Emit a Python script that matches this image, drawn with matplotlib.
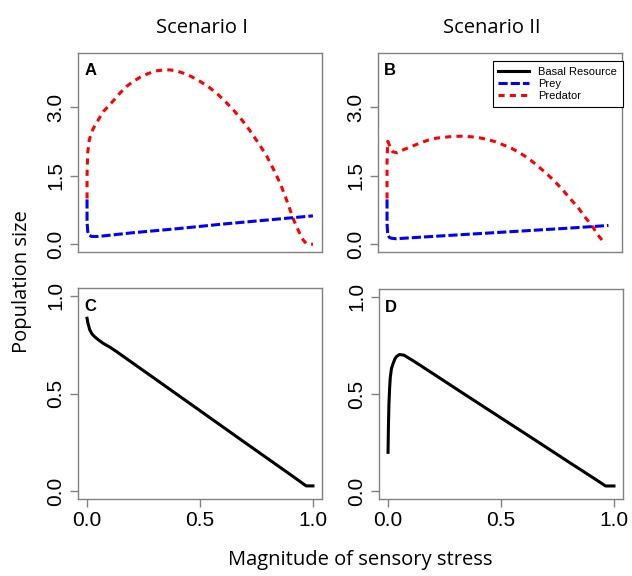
import matplotlib
matplotlib.use('Agg')
import matplotlib.pyplot as plt
from matplotlib.lines import Line2D

# scenario I (panels A, C)
x_pred_1 = [0.0, 0.0, 0.003, 0.01, 0.02, 0.035, 0.05, 0.072, 0.095, 0.117, 0.145, 0.175, 0.205, 0.235,
            0.27, 0.308, 0.34, 0.367, 0.395, 0.426, 0.46, 0.5, 0.535, 0.574, 0.61, 0.647, 0.685, 0.72,
            0.76, 0.795, 0.825, 0.854, 0.878, 0.898, 0.915, 0.928, 0.943, 0.957, 0.97, 0.98, 1.0]
y_pred_1 = [1.0, 1.5, 2.0, 2.28, 2.45, 2.6, 2.72, 2.9, 3.02, 3.14, 3.3, 3.45, 3.56, 3.65,
            3.73, 3.79, 3.81, 3.81, 3.79, 3.74, 3.67, 3.56, 3.45, 3.3, 3.13, 2.94, 2.72, 2.49,
            2.2, 1.93, 1.64, 1.34, 1.04, 0.76, 0.53, 0.38, 0.22, 0.09, 0.02, 0.0, 0.0]
x_prey_1 = [0.0, 0.0, 0.003, 0.008, 0.02, 0.05, 0.2, 0.4, 0.6, 0.8, 1.0]
y_prey_1 = [0.98, 0.5, 0.28, 0.2, 0.17, 0.17, 0.25, 0.34, 0.44, 0.53, 0.62]
x_res_1 = [0.0, 0.004, 0.012, 0.022, 0.034, 0.05, 0.071, 0.1, 0.13, 0.3, 0.5, 0.7, 0.9, 0.97, 1.0]
y_res_1 = [0.885, 0.86, 0.826, 0.805, 0.79, 0.775, 0.757, 0.738, 0.715, 0.576, 0.412, 0.248, 0.085, 0.027, 0.027]

# scenario II (panels B, D)
x_pred_2 = [0.0, 0.0, 0.003, 0.008, 0.015, 0.025, 0.045, 0.07, 0.11, 0.15, 0.185, 0.22, 0.258, 0.295,
            0.33, 0.37, 0.405, 0.445, 0.48, 0.515, 0.55, 0.59, 0.625, 0.66, 0.7, 0.735, 0.77,
            0.81, 0.846, 0.875, 0.905, 0.934, 0.95, 0.965]
y_pred_2 = [1.0, 1.8, 2.25, 2.2, 2.08, 2.02, 2.0, 2.06, 2.14, 2.22, 2.28, 2.32, 2.34, 2.36,
            2.36, 2.35, 2.33, 2.29, 2.24, 2.17, 2.1, 1.99, 1.88, 1.74, 1.57, 1.41, 1.23,
            1.0, 0.8, 0.6, 0.42, 0.2, 0.1, 0.0]
x_prey_2 = [0.0, 0.0, 0.003, 0.01, 0.02, 0.04, 0.2, 0.4, 0.6, 0.8, 0.98]
y_prey_2 = [0.98, 0.45, 0.22, 0.15, 0.13, 0.12, 0.17, 0.23, 0.29, 0.35, 0.41]
x_res_2 = [0.0, 0.002, 0.004, 0.007, 0.01, 0.015, 0.022, 0.03, 0.037, 0.05, 0.07, 0.11, 0.2,
           0.35, 0.5, 0.65, 0.8, 0.9, 0.963, 1.0]
y_res_2 = [0.2, 0.35, 0.45, 0.53, 0.586, 0.63, 0.655, 0.68, 0.692, 0.703, 0.7, 0.672, 0.604,
           0.49, 0.377, 0.264, 0.15, 0.075, 0.027, 0.027]

plt.rcParams['font.family'] = ['Liberation Sans', 'DejaVu Sans']
label_font = 'Open Sans'
edge = '#808080'

fig = plt.figure(figsize=(6.32, 5.76), dpi=100)
W, H = 632, 576


def make_ax(left, top, right, bottom):
    return fig.add_axes([left / W, 1 - bottom / H, (right - left) / W, (bottom - top) / H])


axA = make_ax(78, 53, 322, 252)
axB = make_ax(378, 53, 622, 252)
axC = make_ax(78, 288, 322, 499)
axD = make_ax(379, 289, 623, 499)

red_style = dict(color='red', lw=2.2, linestyle=(0, (2.0, 1.7)))
blue_style = dict(color='blue', lw=2.2, linestyle=(0, (3.0, 1.0)))
black_style = dict(color='black', lw=2.2, linestyle='-')

axA.plot(x_pred_1, y_pred_1, **red_style)
axA.plot(x_prey_1, y_prey_1, **blue_style)
axB.plot(x_pred_2, y_pred_2, **red_style)
axB.plot(x_prey_2, y_prey_2, **blue_style)
axC.plot(x_res_1, y_res_1, **black_style)
axD.plot(x_res_2, y_res_2, **black_style)

for ax, lab in zip([axA, axB, axC, axD], ['A', 'B', 'C', 'D']):
    ax.set_xlim(-0.04, 1.04)
    for s in ax.spines.values():
        s.set_color(edge)
        s.set_linewidth(1.0)
    ax.tick_params(axis='both', color=edge, length=6, width=1.0, labelsize=15, pad=3)
    ax.text(0.025, 0.95, lab, transform=ax.transAxes, fontsize=12, fontweight='bold',
            va='top', ha='left')

for ax in [axA, axB]:
    ax.set_ylim(-0.17, 4.18)
    ax.set_yticks([0.0, 1.5, 3.0])
    ax.set_yticklabels(['0.0', '1.5', '3.0'], rotation=90, va='center')
    ax.set_xticks([])

for ax in [axC, axD]:
    ax.set_ylim(-0.04, 1.04)
    ax.set_yticks([0.0, 0.5, 1.0])
    ax.set_yticklabels(['0.0', '0.5', '1.0'], rotation=90, va='center')
    ax.set_xticks([0.0, 0.5, 1.0])
    ax.set_xticklabels(['0.0', '0.5', '1.0'])

handles = [Line2D([], [], **black_style), Line2D([], [], **blue_style), Line2D([], [], **red_style)]
leg = axB.legend(handles, ['Basal Resource', 'Prey', 'Predator'], loc='upper right',
                 bbox_to_anchor=(1.003, 0.96), fancybox=False, framealpha=1, edgecolor='black',
                 prop={'size': 8}, handlelength=2.8, borderaxespad=0,
                 labelspacing=0.2, borderpad=0.5)
leg.get_frame().set_linewidth(0.8)

fig.text(202 / W, 1 - 28 / H, 'Scenario I', ha='center', va='center', fontsize=14.5, fontfamily=label_font)
fig.text(492 / W, 1 - 28 / H, 'Scenario II', ha='center', va='center', fontsize=14.5, fontfamily=label_font)
fig.text(360 / W, 1 - 560 / H, 'Magnitude of sensory stress', ha='center', va='center', fontsize=14.5,
         fontfamily=label_font)
fig.text(22 / W, 1 - 282 / H, 'Population size', ha='center', va='center', fontsize=14.5,
         fontfamily=label_font, rotation=90)

fig.savefig('out.png', dpi=100)
